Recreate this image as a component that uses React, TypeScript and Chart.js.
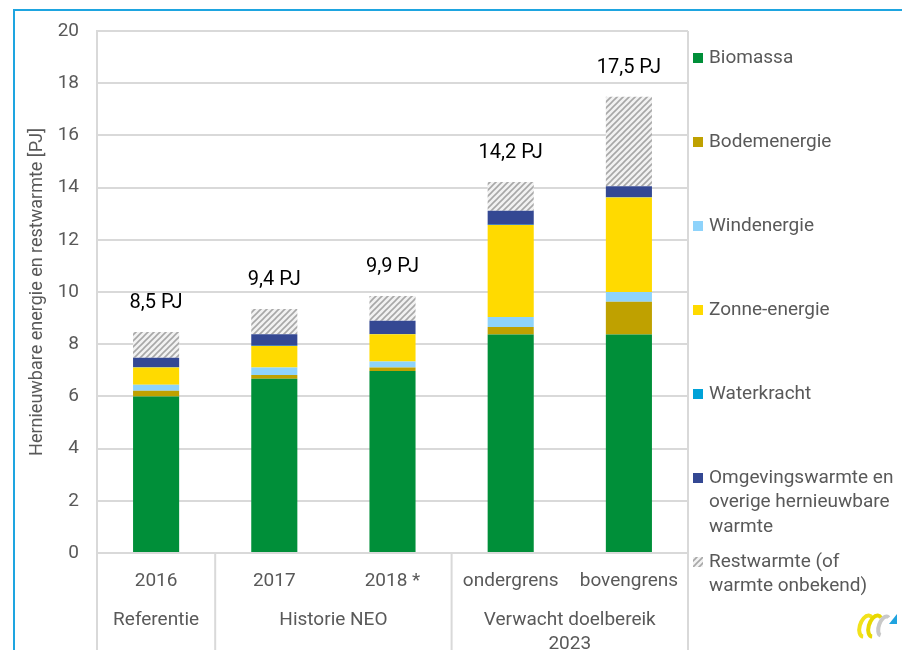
import React, { useEffect, useRef } from "react";
import { Chart, registerables } from "chart.js";
Chart.register(...registerables);

const categories = ["2016", "2017", "2018 *", "ondergrens", "bovengrens"];
const groupLabels = [["Referentie"], ["Historie NEO"], ["Verwacht doelbereik", "2023"]];
const groupSpans = [1, 2, 2];

const biomassa = [6.0, 6.68, 6.97, 8.37, 8.37];
const bodemenergie = [0.22, 0.14, 0.14, 0.29, 1.26];
const windenergie = [0.23, 0.29, 0.23, 0.38, 0.37];
const zonneEnergie = [0.66, 0.82, 1.04, 3.53, 3.62];
const waterkracht = [0.01, 0.01, 0.01, 0.01, 0.01];
const omgevingswarmte = [0.36, 0.44, 0.51, 0.53, 0.42];
const restwarmte = [0.99, 0.97, 0.95, 1.1, 3.43];
const totals = [8.5, 9.4, 9.9, 14.2, 17.5];

const seriesLabels = [
  ["Biomassa"],
  ["Bodemenergie"],
  ["Windenergie"],
  ["Zonne-energie"],
  ["Waterkracht"],
  ["Omgevingswarmte en", "overige hernieuwbare", "warmte"],
  ["Restwarmte (of", "warmte onbekend)"],
];
const seriesColors = ["#008f39", "#bfa100", "#8ed3fb", "#ffda00", "#00a2d8", "#344893", "pattern"];

const yTicks = [0, 2, 4, 6, 8, 10, 12, 14, 16, 18, 20];

const FONT = "Roboto, 'Noto Sans', sans-serif";
const GRAY = "#595959";
const GRID = "#d9d9d9";

function makePattern(): CanvasPattern | string {
  const c = document.createElement("canvas");
  c.width = 6;
  c.height = 6;
  const g = c.getContext("2d");
  if (!g) return "#cccccc";
  g.fillStyle = "#f2f2f2";
  g.fillRect(0, 0, 6, 6);
  g.strokeStyle = "#a8a8a8";
  g.lineWidth = 1.6;
  g.beginPath();
  g.moveTo(-2, 8); g.lineTo(8, -2);
  g.moveTo(-5, 5); g.lineTo(5, -5);
  g.moveTo(1, 11); g.lineTo(11, 1);
  g.stroke();
  const p = g.createPattern(c, "repeat");
  return p || "#cccccc";
}

export default function App() {
  const ref = useRef<HTMLCanvasElement | null>(null);
  useEffect(() => {
    const canvas = ref.current;
    if (!canvas) return;
    const pattern = makePattern();
    const colors = seriesColors.map((c) => (c === "pattern" ? pattern : c));
    const values = [biomassa, bodemenergie, windenergie, zonneEnergie, waterkracht, omgevingswarmte, restwarmte];

    const decorPlugin = {
      id: "decor",
      afterDatasetsDraw(chart: any) {
        const ctx = chart.ctx;
        const area = chart.chartArea;
        const xs = chart.scales.x;
        const H = chart.height;
        ctx.save();
        // totals above bars
        const lastMeta = chart.getDatasetMeta(values.length - 1);
        ctx.fillStyle = "#000000";
        ctx.font = `20px ${FONT}`;
        ctx.textAlign = "center";
        ctx.textBaseline = "middle";
        totals.forEach((t, i) => {
          const el = lastMeta.data[i];
          ctx.fillText(`${t.toFixed(1).replace(".", ",")} PJ`, el.x, el.y - 29);
        });
        // separator lines below axis
        ctx.strokeStyle = GRID;
        ctx.lineWidth = 2;
        ctx.beginPath();
        ctx.moveTo(area.left, area.top);
        ctx.lineTo(area.left, H);
        ctx.moveTo(area.right, area.top);
        ctx.lineTo(area.right, H);
        let idx = 0;
        groupSpans.forEach((s, gi) => {
          idx += s;
          if (gi < groupSpans.length - 1) {
            const bx = (xs.getPixelForValue(idx - 1) + xs.getPixelForValue(idx)) / 2;
            ctx.moveTo(bx, area.bottom);
            ctx.lineTo(bx, H);
          }
        });
        ctx.stroke();
        // category labels
        ctx.fillStyle = GRAY;
        ctx.font = `19px ${FONT}`;
        categories.forEach((c, i) => {
          ctx.fillText(c, xs.getPixelForValue(i), area.bottom + 28);
        });
        // group labels
        let start = 0;
        groupSpans.forEach((s, gi) => {
          const cx = (xs.getPixelForValue(start) + xs.getPixelForValue(start + s - 1)) / 2;
          groupLabels[gi].forEach((line, li) => {
            ctx.fillText(line, cx, area.bottom + 67 + li * 24);
          });
          start += s;
        });
        // legend
        ctx.textAlign = "left";
        seriesLabels.forEach((lines, i) => {
          const y0 = area.top + 27 + i * 84;
          ctx.fillStyle = colors[i];
          ctx.fillRect(area.right + 5, y0 - 5, 10, 10);
          ctx.fillStyle = GRAY;
          lines.forEach((line, li) => {
            ctx.fillText(line, area.right + 21, y0 + li * 24.5);
          });
        });
        // small logo
        const lx = 866, ly = 626;
        ctx.lineWidth = 4;
        ctx.strokeStyle = "#f2e21b";
        ctx.beginPath();
        ctx.ellipse(lx, ly, 6, 11, 0.35, Math.PI * 0.45, Math.PI * 1.65);
        ctx.stroke();
        ctx.strokeStyle = "#e8d800";
        ctx.beginPath();
        ctx.ellipse(lx + 9, ly, 6, 11, 0.35, Math.PI * 0.45, Math.PI * 1.65);
        ctx.stroke();
        ctx.strokeStyle = "#c8c8c8";
        ctx.beginPath();
        ctx.ellipse(lx + 18, ly, 5, 10, 0.35, Math.PI * 0.5, Math.PI * 1.6);
        ctx.stroke();
        ctx.fillStyle = "#1fa3df";
        ctx.beginPath();
        ctx.moveTo(889, 624);
        ctx.lineTo(897, 614);
        ctx.lineTo(897, 624);
        ctx.closePath();
        ctx.fill();
        ctx.restore();
      },
    };

    const chart = new Chart(canvas, {
      type: "bar",
      data: {
        labels: categories,
        datasets: values.map((v, i) => ({
          label: seriesLabels[i].join(" "),
          data: v,
          backgroundColor: colors[i] as any,
          borderWidth: 0,
          barPercentage: 0.39,
          categoryPercentage: 1,
        })),
      },
      options: {
        responsive: false,
        animation: false,
        layout: { padding: { left: 0, right: 214, top: 31, bottom: 0 } },
        plugins: { legend: { display: false }, tooltip: { enabled: false } },
        scales: {
          x: {
            stacked: true,
            grid: { display: false, drawTicks: false },
            border: { display: false },
            ticks: { display: false },
            afterFit(scale: any) {
              scale.height = 97;
            },
          },
          y: {
            stacked: true,
            min: 0,
            max: 20,
            afterBuildTicks(scale: any) {
              scale.ticks = yTicks.map((v) => ({ value: v }));
            },
            grid: { color: GRID, lineWidth: 2, drawTicks: false },
            border: { display: true, color: GRID, width: 2 },
            ticks: {
              color: GRAY,
              padding: 18,
              font: { family: FONT, size: 19 },
            },
            title: {
              display: true,
              text: "Hernieuwbare energie en restwarmte [PJ]",
              color: GRAY,
              font: { family: FONT, size: 18 },
              padding: { top: 27, bottom: 0 },
            },
            afterFit(scale: any) {
              scale.width = 97;
            },
          },
        },
      },
      plugins: [decorPlugin],
    });
    return () => chart.destroy();
  }, []);

  return (
    <div style={{ position: "fixed", left: 0, top: 0, width: 902, height: 650, overflow: "hidden", background: "#ffffff" }}>
      <div
        style={{
          position: "absolute",
          left: 13,
          top: 9,
          width: 2000,
          height: 2000,
          borderLeft: "2px solid #1ea5e0",
          borderTop: "2px solid #1ea5e0",
        }}
      />
      <canvas ref={ref} width={902} height={650} style={{ position: "absolute", left: 0, top: 0, width: 902, height: 650 }} />
    </div>
  );
}
